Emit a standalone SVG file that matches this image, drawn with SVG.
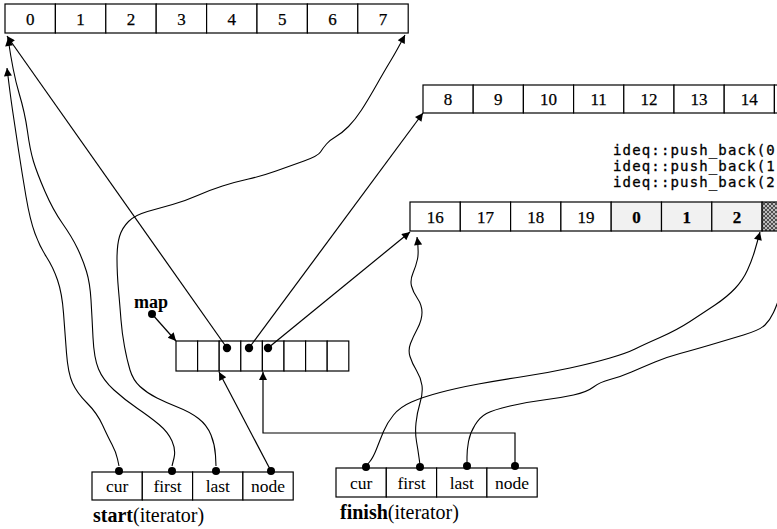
<svg xmlns="http://www.w3.org/2000/svg" width="777" height="529" viewBox="0 0 777 529">
<style>
.cell{fill:#fff;stroke:#000;stroke-width:1.2}
.gcell{fill:#f1f1f1;stroke:#000;stroke-width:1.2}
.num{font-family:"Liberation Serif",serif;font-size:17px;text-anchor:middle;fill:#000;stroke:#000;stroke-width:0.25}
.lbl{font-family:"Liberation Serif",serif;font-size:17.5px;text-anchor:middle;fill:#000}
.cap{font-family:"Liberation Serif",serif;font-size:20px;fill:#000}
.code{font-family:"DejaVu Sans Mono",monospace;font-size:14px;letter-spacing:1.15px;fill:#000;stroke:#000;stroke-width:0.3}
.ln{fill:none;stroke:#000;stroke-width:1.2}
.cv{fill:none;stroke:#000;stroke-width:1.1}
.dot{fill:#000}
</style>
<defs>
<marker id="ah" viewBox="0 0 10 10" refX="10" refY="5" markerWidth="11" markerHeight="8" markerUnits="userSpaceOnUse" orient="auto">
<path d="M0,0 L10,5 L0,10 z" fill="#000"/>
</marker>
<pattern id="hatch" width="4" height="4" patternUnits="userSpaceOnUse">
<rect width="4" height="4" fill="#bbb"/>
<path d="M0,0 L4,4 M4,0 L0,4" stroke="#333" stroke-width="0.8"/>
</pattern>
</defs>

<g id="block0">
<rect class="cell" x="5" y="4" width="50.4" height="29"/>
<rect class="cell" x="55.4" y="4" width="50.4" height="29"/>
<rect class="cell" x="105.8" y="4" width="50.4" height="29"/>
<rect class="cell" x="156.2" y="4" width="50.4" height="29"/>
<rect class="cell" x="206.6" y="4" width="50.4" height="29"/>
<rect class="cell" x="257" y="4" width="50.4" height="29"/>
<rect class="cell" x="307.4" y="4" width="50.4" height="29"/>
<rect class="cell" x="357.8" y="4" width="50.4" height="29"/>
<text class="num" x="30.2" y="24.5">0</text>
<text class="num" x="80.6" y="24.5">1</text>
<text class="num" x="131" y="24.5">2</text>
<text class="num" x="181.4" y="24.5">3</text>
<text class="num" x="231.8" y="24.5">4</text>
<text class="num" x="282.2" y="24.5">5</text>
<text class="num" x="332.6" y="24.5">6</text>
<text class="num" x="383" y="24.5">7</text>
</g>

<g id="block1">
<rect class="cell" x="423" y="85" width="50.2" height="28"/>
<rect class="cell" x="473.2" y="85" width="50.2" height="28"/>
<rect class="cell" x="523.4" y="85" width="50.2" height="28"/>
<rect class="cell" x="573.6" y="85" width="50.2" height="28"/>
<rect class="cell" x="623.8" y="85" width="50.2" height="28"/>
<rect class="cell" x="674" y="85" width="50.2" height="28"/>
<rect class="cell" x="724.2" y="85" width="50.2" height="28"/>
<rect class="cell" x="774.4" y="85" width="50.2" height="28"/>
<text class="num" x="448.1" y="105">8</text>
<text class="num" x="498.3" y="105">9</text>
<text class="num" x="548.5" y="105">10</text>
<text class="num" x="598.7" y="105">11</text>
<text class="num" x="648.9" y="105">12</text>
<text class="num" x="699.1" y="105">13</text>
<text class="num" x="749.3" y="105">14</text>
</g>

<g id="pushback">
<text class="code" x="613" y="155">ideq::push_back(0</text>
<text class="code" x="613" y="171">ideq::push_back(1</text>
<text class="code" x="613" y="187">ideq::push_back(2</text>
</g>

<g id="block2">
<rect class="cell" x="410" y="202" width="50.3" height="29"/>
<rect class="cell" x="460.3" y="202" width="50.3" height="29"/>
<rect class="cell" x="510.6" y="202" width="50.3" height="29"/>
<rect class="cell" x="560.9" y="202" width="50.3" height="29"/>
<rect class="gcell" x="611.2" y="202" width="50.3" height="29"/>
<rect class="gcell" x="661.5" y="202" width="50.3" height="29"/>
<rect class="gcell" x="711.8" y="202" width="50.3" height="29"/>
<rect x="762.1" y="202" width="50.3" height="29" fill="url(#hatch)" stroke="#000" stroke-width="1.2"/>
<text class="num" x="435.2" y="222.5">16</text>
<text class="num" x="485.5" y="222.5">17</text>
<text class="num" x="535.8" y="222.5">18</text>
<text class="num" x="586.1" y="222.5">19</text>
<text class="num" x="636.4" y="222.5" font-weight="bold">0</text>
<text class="num" x="686.7" y="222.5" font-weight="bold">1</text>
<text class="num" x="737" y="222.5" font-weight="bold">2</text>
</g>

<g id="map">
<rect class="cell" x="176" y="341" width="21.6" height="30"/>
<rect class="cell" x="197.6" y="341" width="21.6" height="30"/>
<rect class="cell" x="219.2" y="341" width="21.6" height="30"/>
<rect class="cell" x="240.8" y="341" width="21.6" height="30"/>
<rect class="cell" x="262.4" y="341" width="21.6" height="30"/>
<rect class="cell" x="284" y="341" width="21.6" height="30"/>
<rect class="cell" x="305.6" y="341" width="21.6" height="30"/>
<rect class="cell" x="327.2" y="341" width="21.6" height="30"/>
<circle class="dot" cx="227" cy="348" r="4.2"/>
<circle class="dot" cx="249" cy="348" r="4.2"/>
<circle class="dot" cx="268" cy="348" r="4.2"/>
</g>

<g id="maplabel">
<text x="134" y="308" font-family="'Liberation Serif',serif" font-size="18" font-weight="bold">map</text>
<circle class="dot" cx="152" cy="314" r="4"/>
</g>

<g id="start">
<rect class="cell" x="92" y="472" width="50.3" height="28"/>
<rect class="cell" x="142.3" y="472" width="50.3" height="28"/>
<rect class="cell" x="192.6" y="472" width="50.3" height="28"/>
<rect class="cell" x="242.9" y="472" width="50.3" height="28"/>
<text class="lbl" x="117.2" y="492">cur</text>
<text class="lbl" x="167.5" y="492">first</text>
<text class="lbl" x="217.8" y="492">last</text>
<text class="lbl" x="268" y="492">node</text>
<circle class="dot" cx="119" cy="471" r="4"/>
<circle class="dot" cx="172" cy="471" r="4"/>
<circle class="dot" cx="216" cy="471" r="4"/>
<circle class="dot" cx="271" cy="471" r="4"/>
<text class="cap" x="93" y="522"><tspan font-weight="bold">start</tspan>(iterator)</text>
</g>

<g id="finish">
<rect class="cell" x="336" y="468" width="50.3" height="29"/>
<rect class="cell" x="386.3" y="468" width="50.3" height="29"/>
<rect class="cell" x="436.6" y="468" width="50.3" height="29"/>
<rect class="cell" x="486.9" y="468" width="50.3" height="29"/>
<text class="lbl" x="361.2" y="489">cur</text>
<text class="lbl" x="411.5" y="489">first</text>
<text class="lbl" x="461.8" y="489">last</text>
<text class="lbl" x="512" y="489">node</text>
<circle class="dot" cx="366" cy="467" r="4"/>
<circle class="dot" cx="420" cy="467" r="4"/>
<circle class="dot" cx="467" cy="466" r="4"/>
<circle class="dot" cx="515" cy="466" r="4"/>
<text class="cap" x="340" y="519"><tspan font-weight="bold">finish</tspan>(iterator)</text>
</g>

<g id="connectors">
<line class="ln" x1="227" y1="348" x2="7" y2="36" marker-end="url(#ah)"/>
<line class="ln" x1="249" y1="348" x2="423" y2="113" marker-end="url(#ah)"/>
<line class="ln" x1="268" y1="348" x2="410" y2="232" marker-end="url(#ah)"/>
<line class="ln" x1="152" y1="314" x2="176" y2="341" marker-end="url(#ah)"/>
<line class="ln" x1="271" y1="471" x2="219" y2="372" marker-end="url(#ah)"/>
<polyline class="ln" points="515,466 515,433 263,433 263,372" marker-end="url(#ah)"/>
<path class="cv" marker-end="url(#ah)" d="M119,466 L117.5,459 Q116,452 112,444.5 Q108,437 102.5,425 Q97,413 87,403 Q77,393 72.5,383 Q68,373 66.5,353 Q65,333 63.5,313 Q62,293 57.5,280 Q53,267 46.5,257 Q40,247 35,233.5 Q30,220 26,196.5 Q22,173 18.5,150 Q15,127 12.5,110 Q10,93 7,68"/>
<path class="cv" marker-end="url(#ah)" d="M172,466 L174,458 Q176,450 172,441 Q168,432 159,424.5 Q150,417 137.5,408.5 Q125,400 114,390 Q103,380 98.5,369 Q94,358 93,337.5 Q92,317 91,300 Q90,283 86.5,271.5 Q83,260 77.5,248.5 Q72,237 62.5,223.5 Q53,210 45,191.5 Q37,173 33.5,161.5 Q30,150 27.5,131.5 Q25,113 19,93 Q13,73 8,38"/>
<path class="cv" marker-end="url(#ah)" d="M216,466 L215.5,455.5 Q215,445 211,435 Q207,425 198.5,418.5 Q190,412 178.5,407.5 Q167,403 157,398 Q147,393 140,386.5 Q133,380 130,370 Q127,360 124.5,346.5 Q122,333 121,320 Q120,307 118.5,290 Q117,273 117,259 Q117,245 119.5,236.5 Q122,228 128.5,221.5 Q135,215 147.5,211.5 Q160,208 172.5,204.5 Q185,201 197.5,195.5 Q210,190 222.5,186 Q235,182 248.5,179 Q262,176 276,171 Q290,166 304,161 Q318,156 320.5,152 Q323,148 326.5,144 Q330,140 336,136.5 Q342,133 348.5,126.5 Q355,120 361.5,110 Q368,100 376.5,85 Q385,70 390.5,61 Q396,52 405,35"/>
<path class="cv" marker-end="url(#ah)" d="M366,466 L369.5,462 Q373,458 376.5,449 Q380,440 383.5,431.5 Q387,423 393.5,415 Q400,407 411.5,402 Q423,397 440,392.5 Q457,388 478.5,384 Q500,380 523.5,376.5 Q547,373 570,368 Q593,363 610,358 Q627,353 635,349 Q643,345 660,337.5 Q677,330 690,321.5 Q703,313 715,305 Q727,297 735,288.5 Q743,280 747.5,270 Q752,260 754.5,251.5 Q757,243 760,232"/>
<path class="cv" marker-end="url(#ah)" d="M420,465 L419,457.5 Q418,450 416.5,441.5 Q415,433 416,423 Q417,413 420,403 Q423,393 422,385.5 Q421,378 416.5,370.5 Q412,363 410,356.5 Q408,350 410.5,343.5 Q413,337 417.5,328.5 Q422,320 422,312.5 Q422,305 417.5,298.5 Q413,292 411.5,286 Q410,280 413,273 Q416,266 417.5,259 Q419,252 417,237"/>
<path class="cv" d="M467,464 L467,457 Q467,450 468.5,441.5 Q470,433 475,425 Q480,417 486.5,413.5 Q493,410 510,406 Q527,402 543.5,400 Q560,398 573.5,395 Q587,392 593.5,387 Q600,382 610,379.5 Q620,377 631.5,372 Q643,367 655,362 Q667,357 680,353.5 Q693,350 710,345 Q727,340 743.5,335 Q760,330 765,325 Q770,320 773.5,312.5 Q777,305 782,290"/>
</g>
</svg>
